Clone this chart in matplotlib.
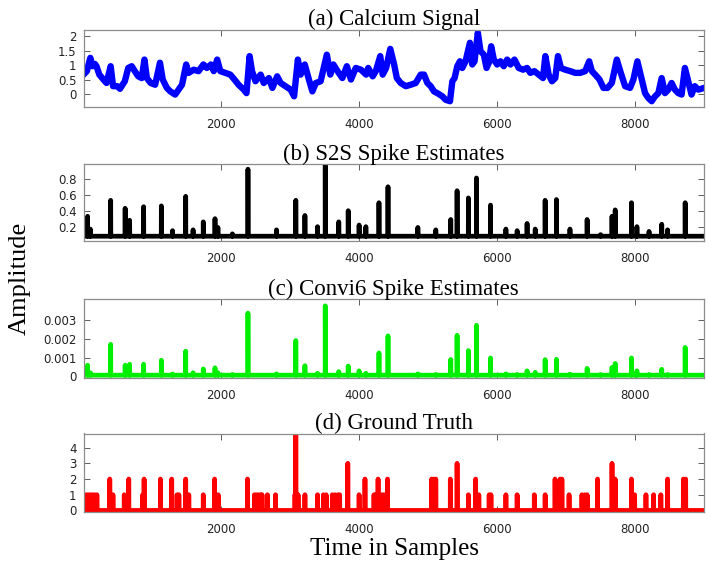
import numpy as np
import matplotlib
matplotlib.use("Agg")
import matplotlib.pyplot as plt

# calcium trace (sample index -> value)
ca_samples = [1, 50, 100, 130, 165, 190, 230, 290, 335, 395, 430, 490, 530, 600, 650, 700,
              745, 795, 845, 885, 920, 975, 1040, 1110, 1150, 1210, 1260, 1330, 1380, 1430,
              1490, 1525, 1600, 1670, 1740, 1790, 1850, 1890, 1940, 1985, 2060, 2130, 2190,
              2250, 2325, 2365, 2410, 2445, 2495, 2570, 2615, 2690, 2740, 2810, 2860, 2930,
              3005, 3055, 3110, 3150, 3210, 3270, 3320, 3370, 3440, 3530, 3580, 3625, 3685,
              3755, 3820, 3880, 3950, 4025, 4100, 4130, 4195, 4240, 4305, 4340, 4390, 4450,
              4506, 4545, 4602, 4675, 4747, 4819, 4891, 4940, 4988, 5036, 5084, 5132, 5205,
              5253, 5316, 5350, 5383, 5422, 5460, 5494, 5542, 5605, 5639, 5672, 5720, 5759,
              5807, 5846, 5880, 5913, 5952, 6000, 6048, 6096, 6145, 6193, 6251, 6313, 6376,
              6434, 6482, 6540, 6602, 6665, 6699, 6747, 6795, 6843, 6882, 6925, 6988, 7060,
              7133, 7205, 7277, 7335, 7374, 7422, 7484, 7542, 7600, 7663, 7735, 7793, 7856,
              7928, 7976, 8034, 8097, 8145, 8193, 8241, 8290, 8338, 8386, 8434, 8482, 8530,
              8578, 8627, 8675, 8723, 8771, 8819, 8867, 8916, 9000]
ca_values = [0.67, 0.79, 1.25, 0.96, 1.04, 0.96, 0.67, 0.50, 0.38, 0.96, 0.27, 0.27, 0.18, 0.44,
             0.90, 0.96, 0.79, 0.61, 0.55, 1.19, 0.55, 0.38, 0.32, 1.08, 0.50, 0.21, 0.09,
             -0.02, 0.15, 0.32, 1.02, 0.73, 0.84, 0.79, 1.02, 0.90, 1.02, 0.79, 1.19, 0.79,
             0.73, 0.67, 0.50, 0.32, 0.15, 0.03, 1.31, 0.79, 0.44, 0.67, 0.38, 0.55, 0.21,
             0.61, 0.38, 0.27, 0.15, -0.08, 1.19, 0.67, 1.02, 0.50, 0.09, 0.38, 0.44, 1.36,
             0.67, 1.02, 0.79, 0.55, 0.96, 0.50, 0.90, 0.84, 0.67, 0.90, 0.61, 0.79, 1.31,
             0.67, 0.90, 1.56, 1.02, 0.55, 0.38, 0.27, 0.32, 0.38, 0.67, 0.67, 0.38, 0.27,
             0.09, 0.03, -0.08, -0.20, -0.25, 0.44, 0.55, 0.96, 1.13, 0.90, 1.13, 1.77, 1.02,
             1.13, 2.12, 1.48, 1.36, 0.90, 1.08, 1.65, 1.19, 1.02, 1.13, 0.96, 1.19, 1.02,
             1.19, 0.90, 0.84, 0.90, 0.73, 0.79, 0.67, 0.55, 1.31, 0.67, 0.44, 0.55, 1.31,
             0.90, 0.84, 0.79, 0.73, 0.73, 0.79, 1.13, 0.79, 0.67, 0.50, 0.21, 0.21, 0.38,
             1.19, 0.73, 0.27, 0.21, 0.50, 1.13, 0.50, 0.03, -0.14, -0.25, -0.08, 0.03, 0.55,
             0.03, 0.15, 0.38, 0.15, 0.03, -0.02, 0.90, 0.44, -0.02, 0.27, 0.15, 0.21]

# spike estimates: shared spike positions, S2S and Conv6 amplitudes
spike_times = [60, 100, 395, 605, 670, 873, 1130, 1293, 1483, 1590, 1738, 1908, 1950, 2160,
               2386, 2800, 3080, 3212, 3395, 3507, 3703, 3840, 3998, 4096, 4286, 4417, 4850,
               5110, 5327, 5419, 5583, 5700, 5904, 6127, 6290, 6434, 6552, 6696, 6860, 7056,
               7305, 7500, 7666, 7712, 7948, 8027, 8203, 8387, 8472, 8727]
s2s_heights = [0.33, 0.17, 0.53, 0.43, 0.28, 0.45, 0.46, 0.15, 0.58, 0.16, 0.26, 0.30, 0.19,
               0.11, 0.92, 0.16, 0.53, 0.34, 0.20, 0.98, 0.26, 0.40, 0.22, 0.20, 0.50, 0.70,
               0.19, 0.16, 0.29, 0.65, 0.56, 0.81, 0.47, 0.17, 0.15, 0.24, 0.17, 0.53, 0.54,
               0.17, 0.29, 0.10, 0.33, 0.41, 0.50, 0.20, 0.14, 0.23, 0.16, 0.50]
conv_heights = [0.0006, 0.0002, 0.0017, 0.0006, 0.00065, 0.00065, 0.00086, 0.00013, 0.00134,
                0.0002, 0.0004, 0.00046, 0.0002, 0.0001, 0.00335, 0.00014, 0.0019, 0.00057,
                0.00017, 0.00374, 0.00026, 0.00055, 0.0003, 0.00017, 0.00125, 0.00215,
                0.00014, 0.0001, 0.0009, 0.00218, 0.00137, 0.00271, 0.00098, 0.00014, 0.0001,
                0.0003, 0.00022, 0.00089, 0.00091, 0.00012, 0.00043, 0.0001, 0.00048, 0.00069,
                0.00098, 0.0003, 0.0001, 0.00038, 0.0001, 0.00154]
s2s_base = 0.08
conv_base = 0.00007

# ground truth spike counts
gt_times = [40, 70, 100, 130, 160, 195, 382, 428, 592, 657, 860, 880, 1116, 1280, 1358, 1384,
            1483, 1528, 1738, 1902, 1954, 2380, 2480, 2510, 2540, 2570, 2590, 2668, 2786,
            3068, 3080, 3113, 3212, 3395, 3480, 3520, 3610, 3650, 3690, 3716, 3834, 3998,
            4083, 4214, 4240, 4273, 4330, 4360, 4390, 4410, 5050, 5080, 5110, 5321, 5419,
            5583, 5688, 5734, 5884, 5910, 6127, 6290, 6539, 6696, 6840, 6913, 6939, 7043,
            7230, 7270, 7305, 7456, 7666, 7712, 7948, 7994, 8158, 8269, 8374, 8472, 8701, 8734]
gt_counts = [1, 1, 1, 1, 1, 1, 2, 1, 1, 2, 1, 2, 2, 2, 1, 1,
             2, 1, 1, 2, 1, 2, 1, 1, 1, 1, 1, 1, 1,
             1, 5, 1, 1, 1, 1, 1, 1, 1, 1, 1, 3, 1,
             2, 1, 1, 2, 1, 1, 1, 2, 2, 2, 2, 2, 3,
             1, 2, 1, 1, 1, 1, 1, 1, 1, 2, 2, 2, 1,
             1, 1, 1, 2, 3, 2, 2, 1, 1, 1, 1, 2, 2, 2]

n_samples = 9000
xticks = [2000, 4000, 6000, 8000]

s2s = np.full(n_samples, s2s_base)
s2s[spike_times] = s2s_heights
conv = np.full(n_samples, conv_base)
conv[spike_times] = conv_heights
gt = np.zeros(n_samples)
gt[gt_times] = gt_counts
t = np.arange(n_samples)

serif = "Liberation Serif"
plt.rcParams["font.family"] = "DejaVu Sans"

fig = plt.figure(figsize=(7.09, 5.69), dpi=100)
W, H = 709.0, 569.0
left, right = 83.5, 704.0

panels = [
    ("(a) Calcium Signal", 29.5, 107, (-0.45, 2.23), [0, 0.5, 1, 1.5, 2],
     ["0", "0.5", "1", "1.5", "2"]),
    ("(b) S2S Spike Estimates", 164, 241, (0.02, 0.985), [0.2, 0.4, 0.6, 0.8],
     ["0.2", "0.4", "0.6", "0.8"]),
    ("(c) Convi6 Spike Estimates", 299, 378, (-0.00008, 0.0041), [0, 0.001, 0.002, 0.003],
     ["0", "0.001", "0.002", "0.003"]),
    ("(d) Ground Truth", 433.5, 512, (-0.1, 4.9), [0, 1, 2, 3, 4],
     ["0", "1", "2", "3", "4"]),
]

axes = []
for title, top, bottom, ylim, yt, ytl in panels:
    ax = fig.add_axes([left / W, 1 - bottom / H, (right - left) / W, (bottom - top) / H])
    ax.set_xlim(1, n_samples)
    ax.set_ylim(*ylim)
    ax.set_xticks(xticks)
    ax.set_xticklabels([str(v) for v in xticks])
    ax.set_yticks(yt)
    ax.set_yticklabels(ytl)
    ax.tick_params(direction="in", top=True, right=True, length=4, width=0.6,
                   color="#444444", labelsize=8.5, labelcolor="#222222")
    ax.tick_params(axis="x", pad=8)
    ax.tick_params(axis="y", pad=5)
    for sp in ax.spines.values():
        sp.set_color("#8c8c8c")
        sp.set_linewidth(0.9)
    ax.set_title(title, family=serif, fontsize=16.5, pad=3)
    axes.append(ax)

axes[0].plot(ca_samples, ca_values, color="#0000ff", lw=4.6)
axes[1].plot(t, s2s, color="black", lw=3.4)
axes[2].plot(t, conv, color="#00ee00", lw=3.4)
axes[3].plot(t, gt, color="#ff0000", lw=3.4)

fig.text(20 / W, 1 - 278 / H, "Amplitude", family=serif, fontsize=19, rotation=90,
         ha="center", va="center")
fig.text(394 / W, 1 - 549 / H, "Time in Samples", family=serif, fontsize=18,
         ha="center", va="center")

fig.savefig("out.png", dpi=100)
